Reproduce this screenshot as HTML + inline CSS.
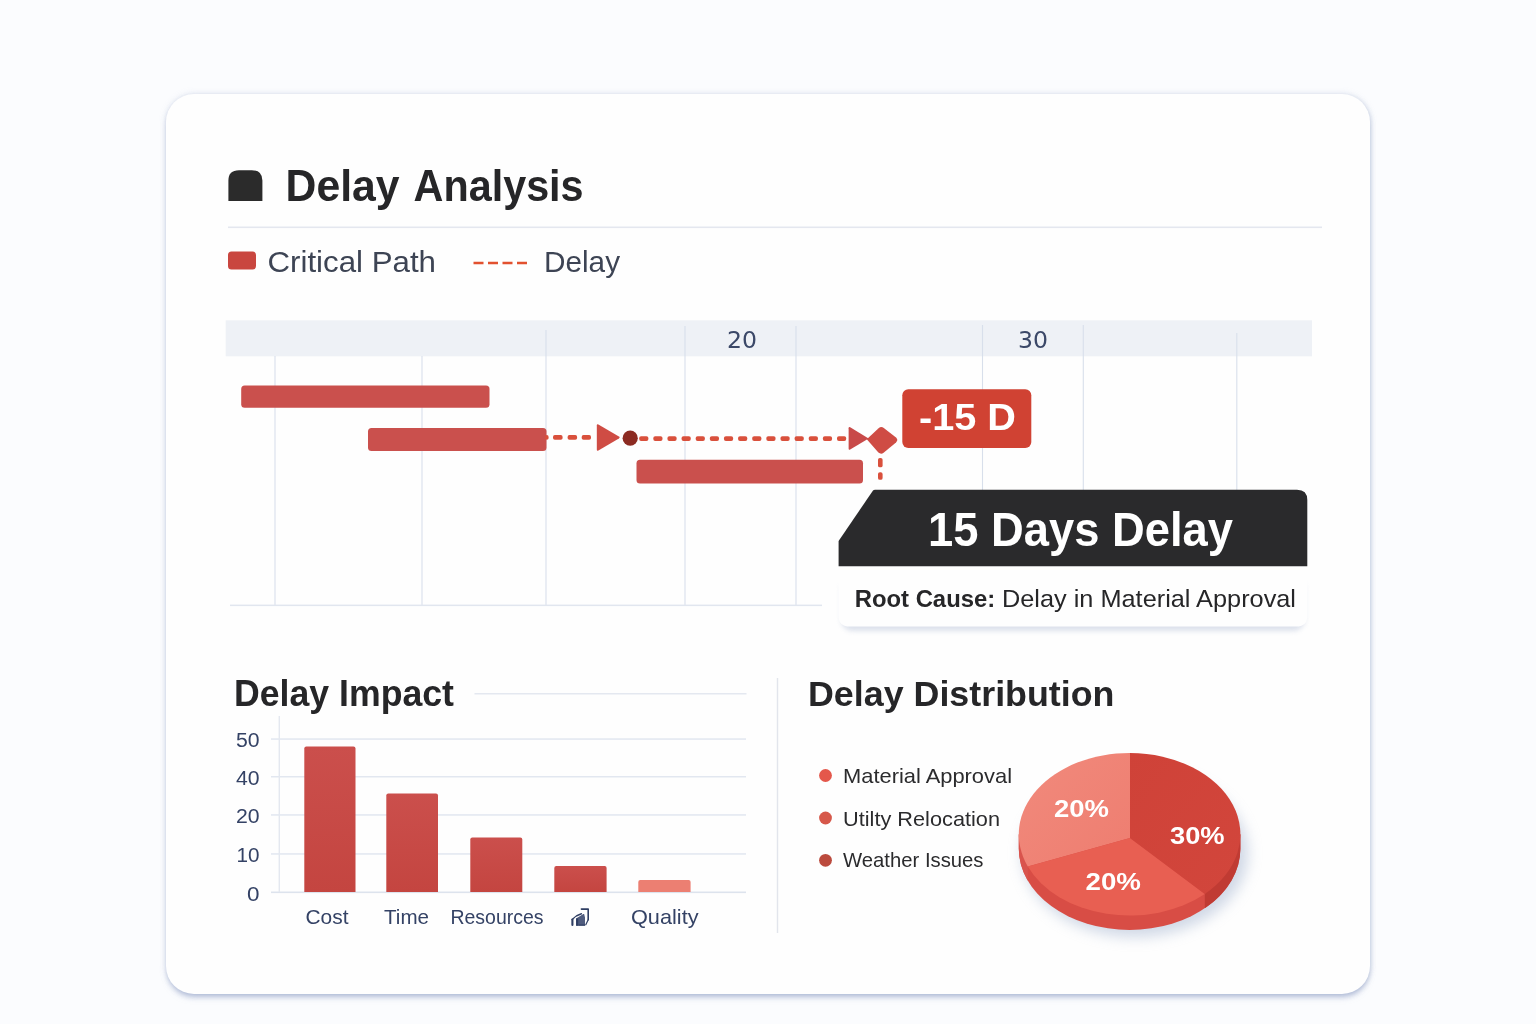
<!DOCTYPE html>
<html lang="en">
<head>
<meta charset="utf-8">
<title>Delay Analysis</title>
<style>
  html, body { margin: 0; padding: 0; }
  body {
    width: 1536px; height: 1024px; overflow: hidden; position: relative;
    background: #fbfcfe;
    font-family: "Liberation Sans", sans-serif;
  }
  .card {
    position: absolute; left: 166px; top: 94px; width: 1204px; height: 900px;
    background: #fefefe; border-radius: 28px;
    box-shadow: 0 5px 6px -2px rgba(140,156,196,0.55), 1px 1px 4px rgba(150,165,200,0.30), 0 0 7px rgba(150,165,200,0.22);
  }
  svg.layer { position: absolute; left: 0; top: 0; width: 1536px; height: 1024px; }
  svg text { font-family: "Liberation Sans", sans-serif; }
  .b { font-weight: bold; }
  svg text.dj, svg g.dj text { font-family: "DejaVu Sans", "Liberation Sans", sans-serif; }
</style>
</head>
<body>
<div class="card"></div>
<svg class="layer" width="1536" height="1024" viewBox="0 0 1536 1024">
  <defs>
    <filter id="soft" x="-20%" y="-20%" width="140%" height="160%">
      <feGaussianBlur stdDeviation="4"/>
    </filter>
    <filter id="soft3" x="-20%" y="-50%" width="140%" height="200%">
      <feGaussianBlur stdDeviation="2.6"/>
    </filter>
    <filter id="soft2" x="-20%" y="-20%" width="140%" height="160%">
      <feGaussianBlur stdDeviation="7"/>
    </filter>
    <linearGradient id="pl" x1="0" y1="0" x2="1" y2="1">
      <stop offset="0" stop-color="#f18a7c"/>
      <stop offset="1" stop-color="#ee7d70"/>
    </linearGradient>
    <linearGradient id="pd" x1="0" y1="0" x2="1" y2="1">
      <stop offset="0" stop-color="#cf4238"/>
      <stop offset="1" stop-color="#d2463c"/>
    </linearGradient>
    <linearGradient id="barg" x1="0" y1="0" x2="0" y2="1">
      <stop offset="0" stop-color="#cb4f4c"/>
      <stop offset="1" stop-color="#c44540"/>
    </linearGradient>
  </defs>

  <!-- ===== HEADER ===== -->
  <g id="header">
    <path d="M228.4 201 V180.6 Q228.4 170.2 239 170.2 H251.8 Q262.4 170.2 262.4 180.6 V201 Z" fill="#2b2b2b"/>
    <text class="b" x="285.6" y="201" font-size="44.5" fill="#262628"><tspan textLength="114" lengthAdjust="spacingAndGlyphs">Delay</tspan><tspan x="413.6" textLength="170" lengthAdjust="spacingAndGlyphs">Analysis</tspan></text>
    <rect x="228" y="226.5" width="1094" height="1.6" fill="#e4e7ef"/>
  </g>

  <!-- ===== LEGEND ===== -->
  <g id="legend">
    <rect x="228" y="251.5" width="28" height="18" rx="3.5" fill="#c9463f"/>
    <text x="267.5" y="271.5" font-size="29.8" fill="#3d4454" textLength="168.5" lengthAdjust="spacingAndGlyphs">Critical Path</text>
    <line x1="473.5" y1="263" x2="527" y2="263" stroke="#e2512f" stroke-width="2.4" stroke-dasharray="10 4.5"/>
    <text x="544" y="271.5" font-size="29.8" fill="#3d4454" textLength="76" lengthAdjust="spacingAndGlyphs">Delay</text>
  </g>

  <!-- ===== GANTT ===== -->
  <g id="gantt">
    <rect x="225.7" y="320.3" width="1086.3" height="36" fill="#eef1f6"/>
    <g stroke="#d8dfeb" stroke-width="1.1">
      <line x1="275" y1="356" x2="275" y2="605"/>
      <line x1="422" y1="356" x2="422" y2="605"/>
      <line x1="546" y1="330" x2="546" y2="605"/>
      <line x1="685" y1="326" x2="685" y2="605"/>
      <line x1="796" y1="326" x2="796" y2="605"/>
      <line x1="982.5" y1="325" x2="982.5" y2="490"/>
      <line x1="1083.3" y1="325" x2="1083.3" y2="490"/>
      <line x1="1236.8" y1="333" x2="1236.8" y2="490"/>
    </g>
    <rect x="230" y="604.6" width="592" height="1.5" fill="#e1e6ef"/>
    <text class="dj" x="727" y="347.7" font-size="22.8" fill="#3b4868" textLength="30" lengthAdjust="spacingAndGlyphs">20</text>
    <text class="dj" x="1018" y="348" font-size="22.8" fill="#3b4868" textLength="30" lengthAdjust="spacingAndGlyphs">30</text>

    <!-- bars -->
    <rect x="241.2" y="385.4" width="248.3" height="22.4" rx="3.5" fill="#ca504d"/>
    <rect x="368" y="428" width="178.5" height="23" rx="3.5" fill="#ca504d"/>
    <rect x="636.5" y="459.8" width="226.5" height="23.6" rx="3.5" fill="#ca504d"/>

    <!-- delay connector -->
    <g fill="#d9503c"><rect x="545" y="435.1" width="3.6" height="4.7" rx="1.8"/><rect x="553" y="435.1" width="9.6" height="4.7" rx="1.8"/><rect x="567.6" y="435.1" width="9.5" height="4.7" rx="1.8"/><rect x="581.7" y="435.1" width="9.3" height="4.7" rx="1.8"/></g>
    <path d="M598.4 424.6 L618.9 436.4 Q620.6 437.5 618.9 438.6 L598.4 450.4 Q596.8 451.2 596.8 449.4 V425.6 Q596.8 423.8 598.4 424.6 Z" fill="#cf4c44"/>
    <circle cx="630.2" cy="438.2" r="7.6" fill="#8c2b22"/>
    <g fill="#d9503c"><rect x="639.17" y="436.2" width="9.2" height="4.8" rx="1.9"/><rect x="653.3" y="436.2" width="9.2" height="4.8" rx="1.9"/><rect x="667.43" y="436.2" width="9.2" height="4.8" rx="1.9"/><rect x="681.56" y="436.2" width="9.2" height="4.8" rx="1.9"/><rect x="695.69" y="436.2" width="9.2" height="4.8" rx="1.9"/><rect x="709.82" y="436.2" width="9.2" height="4.8" rx="1.9"/><rect x="723.95" y="436.2" width="9.2" height="4.8" rx="1.9"/><rect x="738.08" y="436.2" width="9.2" height="4.8" rx="1.9"/><rect x="752.21" y="436.2" width="9.2" height="4.8" rx="1.9"/><rect x="766.34" y="436.2" width="9.2" height="4.8" rx="1.9"/><rect x="780.47" y="436.2" width="9.2" height="4.8" rx="1.9"/><rect x="794.6" y="436.2" width="9.2" height="4.8" rx="1.9"/><rect x="808.73" y="436.2" width="9.2" height="4.8" rx="1.9"/><rect x="822.86" y="436.2" width="9.2" height="4.8" rx="1.9"/><rect x="836.99" y="436.2" width="9.2" height="4.8" rx="1.9"/></g>
    <path d="M850.2 427.2 L868.6 438.4 L850.2 449.6 Q848.6 450.4 848.6 448.6 V428.2 Q848.6 426.4 850.2 427.2 Z" fill="#c84a49"/>
    <path d="M866.8 439.2 L878.6 428.2 Q881.2 426 883.8 428 L896 437.6 Q898.6 440 896 442.4 L883.6 452.8 Q881 454.8 878.4 452.6 Z" fill="#cf4c44"/>
    <g fill="#d9503c"><rect x="878" y="457.9" width="4.6" height="9.4" rx="1.9"/><rect x="878" y="472.2" width="4.6" height="7.6" rx="1.9"/></g>

    <!-- badge -->
    <rect x="902.3" y="389.3" width="129" height="58.6" rx="6" fill="#d04233"/>
    <text class="b" x="919" y="430.2" font-size="36.2" fill="#ffffff" textLength="97" lengthAdjust="spacingAndGlyphs">-15 D</text>

    <!-- callout -->
    <rect x="841" y="578" width="464" height="53" rx="12" fill="#aebad3" opacity="0.42" filter="url(#soft3)"/>
    <path d="M838.6 566 H1307.3 V616 Q1307.3 626.6 1296 626.6 H850 Q838.6 626.6 838.6 616 Z" fill="#fefefe"/>
    <path d="M838.6 566.3 V541 L873 490.5 Q873.8 489.7 875 489.7 H1297 Q1307.3 489.7 1307.3 500 V566.3 Z" fill="#2a2a2c"/>
    <text class="b" x="928" y="546" font-size="48.6" fill="#ffffff" textLength="305" lengthAdjust="spacingAndGlyphs">15 Days Delay</text>
    <text class="b" x="854.7" y="607.2" font-size="24.2" fill="#262628" textLength="140.5" lengthAdjust="spacingAndGlyphs">Root Cause:</text>
    <text x="1002" y="607.2" font-size="24.2" fill="#262628" textLength="294" lengthAdjust="spacingAndGlyphs">Delay in Material Approval</text>
  </g>
  <!-- ===== DELAY IMPACT ===== -->
  <g id="impact">
    <text class="b" x="234" y="706" font-size="36" fill="#262628" textLength="220" lengthAdjust="spacingAndGlyphs">Delay Impact</text>
    <rect x="474.5" y="693" width="272" height="1.5" fill="#e4e8f0"/>
    <rect x="776.8" y="678" width="1.4" height="255" fill="#e2e5ec"/>
    <!-- grid -->
    <g fill="#e2e7f0">
      <rect x="271" y="738.3" width="475" height="1.5"/>
      <rect x="271" y="776" width="475" height="1.5"/>
      <rect x="271" y="814.2" width="475" height="1.5"/>
      <rect x="271" y="853.2" width="475" height="1.5"/>
      <rect x="271" y="891.5" width="475" height="1.6" fill="#dde3ed"/>
      <rect x="278.6" y="716" width="1.4" height="176" fill="#e4e8f0"/>
    </g>
    <g font-size="19.6" fill="#344265">
      <text x="236" y="747" textLength="23.6" lengthAdjust="spacingAndGlyphs">50</text>
      <text x="236" y="785" textLength="23.6" lengthAdjust="spacingAndGlyphs">40</text>
      <text x="236" y="823.2" textLength="23.6" lengthAdjust="spacingAndGlyphs">20</text>
      <text x="236.6" y="862" textLength="23" lengthAdjust="spacingAndGlyphs">10</text>
      <text x="246.9" y="900.5" textLength="12.5" lengthAdjust="spacingAndGlyphs">0</text>
    </g>
    <!-- bars -->
    <g fill="url(#barg)">
      <path d="M304.3 892 V748.5 Q304.3 746.5 306.3 746.5 H353.5 Q355.5 746.5 355.5 748.5 V892 Z"/>
      <path d="M386.3 892 V795.4 Q386.3 793.4 388.3 793.4 H436 Q438 793.4 438 795.4 V892 Z"/>
      <path d="M470.3 892 V839.5 Q470.3 837.5 472.3 837.5 H520.3 Q522.3 837.5 522.3 839.5 V892 Z"/>
      <path d="M554.3 892 V868 Q554.3 866 556.3 866 H604.6 Q606.6 866 606.6 868 V892 Z"/>
    </g>
    <path d="M638.3 892 V882 Q638.3 880 640.3 880 H688.6 Q690.6 880 690.6 882 V892 Z" fill="#ec7f72"/>
    <!-- x labels -->
    <g font-size="21" fill="#344265">
      <text x="305.5" y="923.5" textLength="43" lengthAdjust="spacingAndGlyphs">Cost</text>
      <text x="384" y="923.5" textLength="45" lengthAdjust="spacingAndGlyphs">Time</text>
      <text x="450.5" y="923.5" textLength="93" lengthAdjust="spacingAndGlyphs">Resources</text>
      <text x="631" y="923.5" textLength="67.5" lengthAdjust="spacingAndGlyphs">Quality</text>
    </g>
    <!-- small chart icon -->
    <g fill="none" stroke="#2f3e63" stroke-linecap="round" stroke-linejoin="round">
      <path d="M572.4 925 V919.6" stroke-width="2.1"/>
      <path d="M572.2 919.4 Q576.4 915 581.4 913.7" stroke-width="1.4"/>
      <path d="M581.4 909.1 H588.2 V919.8" stroke-width="1.6"/>
      <path d="M588.2 919.8 L585.8 924.8" stroke-width="1.2"/>
    </g>
    <path d="M576.1 925.7 V918.5 L583.3 913.9 L584.1 913.9 L585 917.6 V925.7 Z" fill="#4f5c7e"/>
    <rect x="576.1" y="918.4" width="2.1" height="7.3" fill="#2f3e63"/>
    <rect x="578.4" y="924.3" width="6.6" height="1.4" fill="#3a486c"/>
  </g>
  <!-- ===== DELAY DISTRIBUTION ===== -->
  <g id="dist">
    <text class="b" x="808" y="705.5" font-size="35.5" fill="#262628" textLength="306.5" lengthAdjust="spacingAndGlyphs">Delay Distribution</text>
    <circle cx="825.5" cy="775.5" r="6.4" fill="#e4574b"/>
    <circle cx="825.5" cy="818" r="6.4" fill="#d6584a"/>
    <circle cx="825.5" cy="860.3" r="6.4" fill="#bb4a3d"/>
    <g font-size="20.6" fill="#2b2b2d">
      <text x="843" y="782.6" textLength="169" lengthAdjust="spacingAndGlyphs">Material Approval</text>
      <text x="843" y="825.8" textLength="157" lengthAdjust="spacingAndGlyphs">Utilty Relocation</text>
      <text x="843" y="867" textLength="140.5" lengthAdjust="spacingAndGlyphs">Weather Issues</text>
    </g>
    <!-- pie shadow -->
    <ellipse cx="1135" cy="853" rx="113" ry="84" fill="#a3b3cf" opacity="0.5" filter="url(#soft2)"/>
    <!-- pie side -->
    <path d="M1018.8 834.3 V848.5999999999999 A110.8 81.3 0 0 0 1240.4 848.5999999999999 V834.3 Z" fill="#d84d45"/>
    <path d="M1204.8 894.0 V908.3 A110.8 81.3 0 0 0 1240.4 848.5999999999999 V834.3 Z" fill="#c03b33"/>
    <path d="M1018.8 834.3 V848.5999999999999 A110.8 81.3 0 0 0 1027.8 880.6999999999999 V866.4 Z" fill="#d9544d"/>
    <!-- pie top -->
    <path d="M1130 838 L1130 753.0 A110.8 81.3 0 0 0 1027.8 866.4 Z" fill="url(#pl)"/>
    <path d="M1130 838 L1027.8 866.4 A110.8 81.3 0 0 0 1204.8 894.0 Z" fill="#e85f52"/>
    <path d="M1130 838 L1204.8 894.0 A110.8 81.3 0 0 0 1130 753.0 Z" fill="url(#pd)"/>
    <g class="b" font-size="24.2" fill="#ffffff">
      <text x="1054" y="817.2" textLength="55" lengthAdjust="spacingAndGlyphs">20%</text>
      <text x="1170" y="843.8" textLength="54.6" lengthAdjust="spacingAndGlyphs">30%</text>
      <text x="1085.5" y="890" textLength="55.4" lengthAdjust="spacingAndGlyphs">20%</text>
    </g>
  </g>
</svg>
</body>
</html>
